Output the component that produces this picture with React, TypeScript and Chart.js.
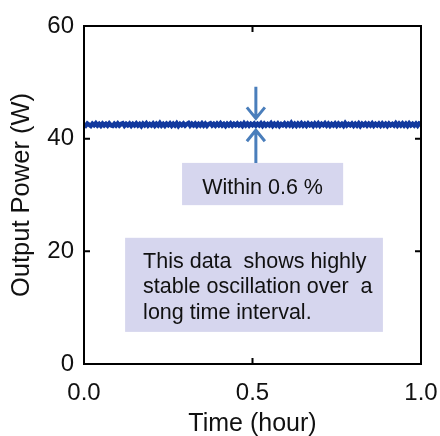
import React, { useEffect, useRef } from "react";
import { Chart, registerables } from "chart.js";

Chart.register(...registerables);

const TIME_STEP = 0.005; // hours between samples
const POWER = [
  42.52, 42.31, 42.68, 42.47, 42.26, 42.65, 42.39, 42.72, 42.34, 42.61,
  42.29, 42.67, 42.36, 42.63, 42.32, 42.70, 42.38, 42.27, 42.64, 42.35,
  42.69, 42.33, 42.60, 42.74, 42.30, 42.62, 42.37, 42.66, 42.28, 42.63,
  42.36, 42.71, 42.34, 42.60, 42.25, 42.67, 42.38, 42.73, 42.32, 42.61,
  42.35, 42.68, 42.30, 42.65, 42.37, 42.76, 42.33, 42.62, 42.29, 42.66,
  42.39, 42.70, 42.31, 42.64, 42.36, 42.72, 42.27, 42.63, 42.38, 42.69,
  42.34, 42.61, 42.78, 42.32, 42.65, 42.37, 42.68, 42.30, 42.62, 42.35,
  42.71, 42.33, 42.66, 42.28, 42.60, 42.74, 42.36, 42.63, 42.31, 42.67,
  42.38, 42.72, 42.34, 42.61, 42.26, 42.65, 42.37, 42.70, 42.32, 42.64,
  42.39, 42.68, 42.35, 42.62, 42.29, 42.73, 42.36, 42.67, 42.33, 42.65,
  42.40, 42.69, 42.31, 42.63, 42.37, 42.71, 42.28, 42.66, 42.34, 42.62,
  42.38, 42.74, 42.30, 42.64, 42.35, 42.68, 42.27, 42.61, 42.39, 42.70,
  42.33, 42.66, 42.36, 42.79, 42.32, 42.63, 42.29, 42.67, 42.37, 42.72,
  42.34, 42.65, 42.31, 42.69, 42.38, 42.62, 42.26, 42.68, 42.35, 42.71,
  42.30, 42.64, 42.39, 42.73, 42.33, 42.66, 42.28, 42.61, 42.36, 42.70,
  42.32, 42.67, 42.37, 42.63, 42.29, 42.75, 42.35, 42.62, 42.38, 42.68,
  42.31, 42.65, 42.34, 42.71, 42.27, 42.64, 42.39, 42.69, 42.33, 42.66,
  42.36, 42.72, 42.30, 42.63, 42.37, 42.67, 42.32, 42.70, 42.35, 42.64,
  42.28, 42.68, 42.38, 42.62, 42.34, 42.73, 42.31, 42.66, 42.36, 42.69,
  42.33, 42.65, 42.29, 42.71, 42.37, 42.64, 42.35, 42.68, 42.32, 42.70, 42.60,
];
const X_TICKS = [0, 0.5, 1.0];
const Y_TICKS = [0, 20, 40, 60];

const X_TITLE = "Time (hour)";
const Y_TITLE = "Output Power (W)";
const NOTE_SHORT = "Within 0.6 %";
const NOTE_LONG = ["This data  shows highly", "stable oscillation over  a", "long time interval."];

const FONT = "'Liberation Sans', Arial, sans-serif";

const framePlugin = {
  id: "frameAndNotes",
  afterDraw(chart: any) {
    const { ctx, chartArea: a, scales } = chart;
    const xs = scales.x;
    const ys = scales.y;
    ctx.save();
    // frame
    ctx.strokeStyle = "#000";
    ctx.lineWidth = 2;
    ctx.strokeRect(a.left, a.top, a.right - a.left, a.bottom - a.top);
    // inward ticks
    const tl = 6;
    ctx.beginPath();
    X_TICKS.forEach((v) => {
      const px = xs.getPixelForValue(v);
      ctx.moveTo(px, a.bottom);
      ctx.lineTo(px, a.bottom - tl);
      ctx.moveTo(px, a.top);
      ctx.lineTo(px, a.top + tl);
    });
    Y_TICKS.forEach((v) => {
      const py = ys.getPixelForValue(v);
      ctx.moveTo(a.left, py);
      ctx.lineTo(a.left + tl, py);
      ctx.moveTo(a.right, py);
      ctx.lineTo(a.right - tl, py);
    });
    ctx.stroke();

    // note boxes
    ctx.fillStyle = "#d6d6ee";
    const b1x0 = xs.getPixelForValue(0.291), b1x1 = xs.getPixelForValue(0.769);
    const b1y0 = ys.getPixelForValue(35.7), b1y1 = ys.getPixelForValue(28.2);
    ctx.fillRect(b1x0, b1y0, b1x1 - b1x0, b1y1 - b1y0);
    const b2x0 = xs.getPixelForValue(0.122), b2x1 = xs.getPixelForValue(0.887);
    const b2y0 = ys.getPixelForValue(22.4), b2y1 = ys.getPixelForValue(5.7);
    ctx.fillRect(b2x0, b2y0, b2x1 - b2x0, b2y1 - b2y0);

    ctx.fillStyle = "#111";
    ctx.font = `21.5px ${FONT}`;
    ctx.textAlign = "center";
    ctx.textBaseline = "alphabetic";
    ctx.fillText(NOTE_SHORT, (b1x0 + b1x1) / 2, b1y0 + 31);
    ctx.textAlign = "left";
    NOTE_LONG.forEach((line, i) => {
      ctx.fillText(line, b2x0 + 18, b2y0 + 30 + i * 25.5);
    });

    // arrows
    ctx.strokeStyle = "#4a7ebb";
    ctx.lineWidth = 3;
    ctx.lineCap = "butt";
    const ax = xs.getPixelForValue(0.51);
    const topTail = ys.getPixelForValue(49.2);
    const topTip = ys.getPixelForValue(43.6);
    const botTip = ys.getPixelForValue(41.5);
    const botTail = ys.getPixelForValue(35.7);
    const hw = 9, hl = 11;
    ctx.beginPath();
    ctx.moveTo(ax, topTail);
    ctx.lineTo(ax, topTip);
    ctx.moveTo(ax - hw, topTip - hl);
    ctx.lineTo(ax, topTip);
    ctx.lineTo(ax + hw, topTip - hl);
    ctx.moveTo(ax, botTail);
    ctx.lineTo(ax, botTip);
    ctx.moveTo(ax - hw, botTip + hl);
    ctx.lineTo(ax, botTip);
    ctx.lineTo(ax + hw, botTip + hl);
    ctx.stroke();
    ctx.restore();
  },
};

export default function App() {
  const ref = useRef<HTMLCanvasElement>(null);
  useEffect(() => {
    if (!ref.current) return;
    const data = POWER.map((p, i) => ({ x: i * TIME_STEP, y: p }));
    const chart = new Chart(ref.current, {
      type: "line",
      data: {
        datasets: [
          {
            data,
            borderColor: "#12399e",
            borderWidth: 4.5,
            pointRadius: 0,
            tension: 0,
            fill: false,
          },
        ],
      },
      options: {
        responsive: false,
        animation: false,
        layout: { padding: { top: 26, right: 19, left: 0, bottom: 0 } },
        plugins: { legend: { display: false }, tooltip: { enabled: false } },
        scales: {
          x: {
            type: "linear",
            min: 0,
            max: 1,
            afterBuildTicks: (s: any) => {
              s.ticks = X_TICKS.map((v) => ({ value: v }));
            },
            afterFit: (s: any) => {
              s.height = 72;
              s.paddingLeft = 0;
              s.paddingRight = 0;
            },
            grid: { display: false, drawTicks: false },
            border: { display: false },
            ticks: {
              padding: 15,
              color: "#111",
              font: { family: FONT, size: 24 },
              callback: (v: any) => Number(v).toFixed(1),
              maxRotation: 0,
            },
            title: {
              display: true,
              text: X_TITLE,
              color: "#111",
              font: { family: FONT, size: 25 },
              padding: { top: 0, bottom: -3 },
            },
          },
          y: {
            type: "linear",
            min: 0,
            max: 60,
            afterBuildTicks: (s: any) => {
              s.ticks = Y_TICKS.map((v) => ({ value: v }));
            },
            afterFit: (s: any) => {
              s.width = 84;
              s.paddingTop = 0;
              s.paddingBottom = 0;
            },
            grid: { display: false, drawTicks: false },
            border: { display: false },
            ticks: {
              padding: 10,
              color: "#111",
              font: { family: FONT, size: 24 },
            },
            title: {
              display: true,
              text: Y_TITLE,
              color: "#111",
              font: { family: FONT, size: 25.5 },
              padding: { top: 7, bottom: 0 },
            },
          },
        },
      },
      plugins: [framePlugin],
    });
    return () => chart.destroy();
  }, []);
  return (
    <div style={{ position: "absolute", left: 0, top: 0, width: 440, height: 436, background: "#fff" }}>
      <canvas ref={ref} width={440} height={436} />
    </div>
  );
}
